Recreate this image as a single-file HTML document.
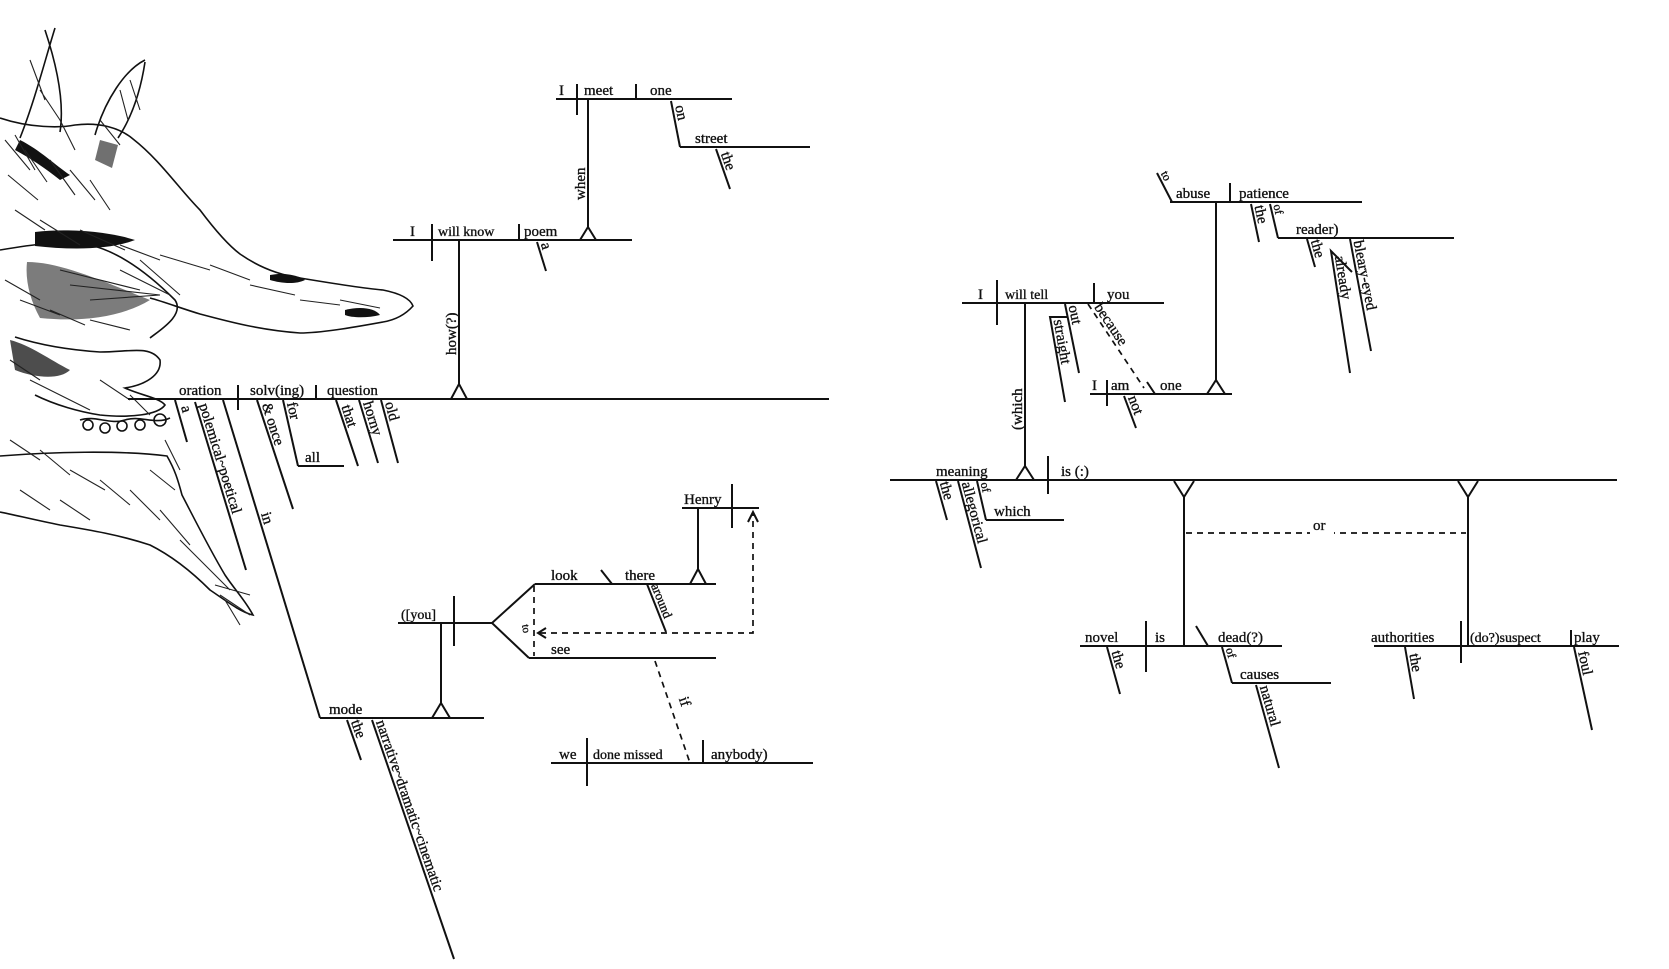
<!DOCTYPE html>
<html><head><meta charset="utf-8"><style>
html,body{margin:0;padding:0;background:#fff;}
svg{display:block}
text{font-family:"Liberation Serif",serif;font-size:15px;fill:#111;stroke:#111;stroke-width:0.35;}
.l{stroke:#111;stroke-width:2;fill:none}
.d{stroke:#111;stroke-width:1.7;fill:none;stroke-dasharray:6 5}
.s{stroke:#111;stroke-width:1.6;fill:none}
.h{stroke:#222;stroke-width:1.1;fill:none}
.b{fill:#111;stroke:none}
</style></head><body>
<svg width="1669" height="969" viewBox="0 0 1669 969" xmlns="http://www.w3.org/2000/svg">
<!-- sketch -->
<g>
<path class="s" d="M45,30 C55,60 65,100 60,132 M55,28 C45,60 35,100 20,138"/>
<path class="s" d="M145,60 C125,70 105,100 95,135 M145,62 C140,95 130,120 118,138"/>
<path class="s" d="M0,118 C30,128 60,128 75,125 C100,122 120,128 133,139 C160,160 180,190 200,210 C215,230 228,245 240,254 C260,268 280,275 300,278 C330,283 360,288 383,290 C398,293 410,298 413,306 C405,315 395,320 383,322 C350,328 320,333 300,333 C260,330 230,322 200,314 C180,308 165,302 150,298"/>
<path class="s" d="M0,250 C30,245 60,240 90,245 C120,252 150,275 175,300 C185,315 160,330 150,338"/>
<path class="s" d="M15,337 C40,345 70,350 100,352 C130,352 150,345 160,360 C162,375 145,385 125,388 C140,395 160,398 165,405 C158,415 130,418 100,415 C80,412 55,405 35,395"/>
<path class="s" d="M80,420 C95,415 110,425 125,420 C140,415 155,425 170,418"/>
<circle class="s" cx="88" cy="425" r="5"/><circle class="s" cx="105" cy="428" r="5"/><circle class="s" cx="122" cy="426" r="5"/><circle class="s" cx="140" cy="425" r="5"/><circle class="s" cx="160" cy="420" r="6"/>
<path class="s" d="M0,456 C50,452 120,450 167,456 C175,470 178,480 182,495 C195,520 210,550 225,575 C235,590 245,600 253,615 C240,612 225,600 210,590 C190,570 170,555 150,545 C120,535 90,530 60,525 C35,520 15,515 0,512"/>
<path class="b" d="M20,140 C40,150 55,165 70,175 L60,180 C45,168 30,158 15,150 Z"/>
<path class="b" d="M100,140 L118,145 L112,168 L95,160 Z" opacity="0.6"/>
<path class="b" d="M35,232 C70,228 110,232 135,240 C110,250 70,250 35,246 Z"/>
<path class="b" d="M27,262 C60,262 100,280 150,300 C120,318 80,322 40,318 C30,300 25,280 27,262 Z" opacity="0.55"/>
<path class="b" d="M10,340 C30,345 50,360 70,370 C60,380 35,378 15,370 Z" opacity="0.75"/>
<path class="b" d="M270,275 C285,272 300,276 305,280 C295,285 280,283 270,280 Z"/>
<path class="b" d="M345,310 C360,306 375,308 380,315 C368,318 352,318 345,315 Z"/>
<g class="h">
<path d="M5,140 l25,30 M15,135 l20,35 M25,150 l22,32 M8,175 l30,25 M50,160 l25,35 M70,170 l25,30 M90,180 l20,30 M15,210 l30,20 M40,220 l40,25 M80,230 l45,20 M120,245 l40,15 M160,255 l50,15 M210,265 l40,15 M250,285 l45,10 M300,300 l40,5 M340,300 l40,8 M60,120 l15,30 M100,120 l20,25 M30,60 l15,40 M40,90 l20,30 M130,80 l10,30 M120,90 l8,30"/>
<path d="M5,280 l35,20 M20,300 l40,15 M50,310 l35,15 M90,320 l40,10 M10,360 l30,20 M30,380 l30,15 M100,380 l30,20 M60,395 l30,15 M130,395 l20,20 M60,270 l80,20 M70,285 l90,10 M90,300 l70,-5 M120,270 l50,25 M140,260 l40,35"/>
<path d="M10,440 l30,20 M40,450 l30,25 M70,470 l35,20 M100,480 l30,25 M130,490 l30,30 M160,510 l30,35 M180,540 l30,30 M200,560 l30,30 M20,490 l30,20 M60,500 l30,20 M215,585 l35,10 M220,595 l30,20 M225,600 l15,25 M165,440 l15,30 M150,470 l25,20"/>
</g>
</g>

<!-- LEFT DIAGRAM -->
<line class="l" x1="128" y1="399" x2="829" y2="399"/>
<text x="179" y="395">oration</text>
<line class="l" x1="238" y1="385" x2="238" y2="410"/>
<text x="250" y="395">solv(ing)</text>
<line class="l" x1="316" y1="385" x2="316" y2="399"/>
<text x="327" y="395">question</text>
<line class="l" x1="175" y1="400" x2="187" y2="442"/>
<text transform="translate(177,404) rotate(74)" x="4" y="-3">a</text>
<line class="l" x1="195" y1="402" x2="246" y2="570"/>
<text transform="translate(195,402) rotate(73)" x="4" y="-3">polemical~poetical</text>
<line class="l" x1="223" y1="400" x2="320" y2="718"/>
<text transform="translate(223,400) rotate(73)" x="120" y="-3">in</text>
<line class="l" x1="257" y1="400" x2="293" y2="509"/>
<text transform="translate(257,400) rotate(72)" x="6" y="-3">&amp; once</text>
<line class="l" x1="283" y1="400" x2="298" y2="466"/>
<text transform="translate(283,400) rotate(77)" x="4" y="-3">for</text>
<line class="l" x1="298" y1="466" x2="344" y2="466"/>
<text x="305" y="462">all</text>
<line class="l" x1="336" y1="400" x2="358" y2="466"/>
<text transform="translate(336,400) rotate(72)" x="8" y="-3">that</text>
<line class="l" x1="359" y1="400" x2="378" y2="463"/>
<text transform="translate(359,400) rotate(73)" x="4" y="-3">horny</text>
<line class="l" x1="381" y1="400" x2="398" y2="463"/>
<text transform="translate(381,400) rotate(75)" x="4" y="-3">old</text>

<line class="l" x1="459" y1="241" x2="459" y2="384"/>
<path class="l" d="M451,399 L459,384 L467,399"/>
<text transform="translate(456,355) rotate(-90)">how(?)</text>
<line class="l" x1="393" y1="240" x2="632" y2="240"/>
<text x="410" y="236">I</text>
<line class="l" x1="432" y1="224" x2="432" y2="261"/>
<text x="438" y="236" style="font-size:14px">will know</text>
<line class="l" x1="519" y1="224" x2="519" y2="240"/>
<text x="524" y="236">poem</text>
<line class="l" x1="537" y1="242" x2="546" y2="271"/>
<text transform="translate(537,242) rotate(73)" x="3" y="-3">a</text>
<line class="l" x1="588" y1="99" x2="588" y2="227"/>
<path class="l" d="M580,240 L588,227 L596,240"/>
<text transform="translate(585,200) rotate(-90)">when</text>
<line class="l" x1="556" y1="99" x2="732" y2="99"/>
<text x="559" y="95">I</text>
<line class="l" x1="577" y1="84" x2="577" y2="115"/>
<text x="584" y="95">meet</text>
<line class="l" x1="636" y1="84" x2="636" y2="99"/>
<text x="650" y="95">one</text>
<line class="l" x1="671" y1="101" x2="680" y2="147"/>
<text transform="translate(671,101) rotate(78)" x="6" y="-3">on</text>
<line class="l" x1="680" y1="147" x2="810" y2="147"/>
<text x="695" y="143">street</text>
<line class="l" x1="716" y1="149" x2="730" y2="189"/>
<text transform="translate(716,149) rotate(71)" x="6" y="-3">the</text>

<line class="l" x1="320" y1="718" x2="484" y2="718"/>
<text x="329" y="714">mode</text>
<line class="l" x1="347" y1="720" x2="361" y2="760"/>
<text transform="translate(347,720) rotate(70)" x="3" y="-3">the</text>
<line class="l" x1="372" y1="720" x2="454" y2="959"/>
<text transform="translate(372,720) rotate(71)" x="3" y="-3">narrative~dramatic~cinematic</text>
<line class="l" x1="441" y1="623" x2="441" y2="703"/>
<path class="l" d="M432,718 L441,703 L450,718"/>
<line class="l" x1="398" y1="623" x2="492" y2="623"/>
<text x="401" y="619" style="font-size:14px">([you]</text>
<line class="l" x1="454" y1="596" x2="454" y2="646"/>
<path class="l" d="M535,584 L492,623 L529,658"/>
<line class="l" x1="535" y1="584" x2="716" y2="584"/>
<line class="l" x1="529" y1="658" x2="716" y2="658"/>
<line class="d" x1="534" y1="586" x2="534" y2="656"/>
<text transform="translate(522,625) rotate(80)" style="font-size:11px">to</text>
<text x="551" y="580">look</text>
<line class="l" x1="601" y1="570" x2="612" y2="584"/>
<text x="625" y="580">there</text>
<line class="l" x1="647" y1="584" x2="666" y2="632"/>
<text transform="translate(647,584) rotate(68)" x="3" y="-3" style="font-size:13px">around</text>
<line class="l" x1="698" y1="508" x2="698" y2="569"/>
<path class="l" d="M690,584 L698,569 L706,584"/>
<line class="l" x1="682" y1="508" x2="759" y2="508"/>
<text x="684" y="504">Henry</text>
<line class="l" x1="732" y1="484" x2="732" y2="528"/>
<path class="d" d="M540,633 L753,633 L753,514"/>
<path class="l" d="M748,522 L753,512 L758,522 M546,628 L538,633 L546,638"/>
<text x="551" y="654">see</text>
<line class="d" x1="655" y1="661" x2="690" y2="763"/>
<text transform="translate(675,700) rotate(71)" x="0" y="-4">if</text>
<line class="l" x1="551" y1="763" x2="813" y2="763"/>
<text x="559" y="759">we</text>
<line class="l" x1="587" y1="738" x2="587" y2="786"/>
<text x="593" y="759" style="font-size:14px">done missed</text>
<line class="l" x1="703" y1="740" x2="703" y2="763"/>
<text x="711" y="759">anybody)</text>

<!-- RIGHT DIAGRAM -->
<line class="l" x1="890" y1="480" x2="1617" y2="480"/>
<text x="936" y="476">meaning</text>
<line class="l" x1="1025" y1="303" x2="1025" y2="466"/>
<path class="l" d="M1016,480 L1025,466 L1034,480"/>
<text transform="translate(1022,430) rotate(-90)">(which</text>
<line class="l" x1="1048" y1="456" x2="1048" y2="494"/>
<text x="1061" y="476">is (:)</text>
<line class="l" x1="936" y1="481" x2="947" y2="520"/>
<text transform="translate(936,481) rotate(74)" x="3" y="-3">the</text>
<line class="l" x1="958" y1="481" x2="981" y2="568"/>
<text transform="translate(958,481) rotate(75)" x="3" y="-3">allegorical</text>
<line class="l" x1="977" y1="481" x2="986" y2="520"/>
<text transform="translate(977,481) rotate(77)" x="3" y="-3" style="font-size:12px">of</text>
<line class="l" x1="986" y1="520" x2="1064" y2="520"/>
<text x="994" y="516">which</text>

<path class="l" d="M1174,481 L1184,497 L1194,481"/>
<line class="l" x1="1184" y1="497" x2="1184" y2="646"/>
<path class="l" d="M1458,481 L1468,497 L1478,481"/>
<line class="l" x1="1468" y1="497" x2="1468" y2="646"/>
<line class="d" x1="1186" y1="533" x2="1466" y2="533"/>
<rect x="1310" y="518" width="24" height="18" fill="#fff"/>
<text x="1313" y="530">or</text>

<line class="l" x1="1080" y1="646" x2="1282" y2="646"/>
<text x="1085" y="642">novel</text>
<line class="l" x1="1146" y1="621" x2="1146" y2="672"/>
<text x="1155" y="642">is</text>
<line class="l" x1="1196" y1="626" x2="1208" y2="646"/>
<text x="1218" y="642">dead(?)</text>
<line class="l" x1="1107" y1="647" x2="1120" y2="694"/>
<text transform="translate(1107,647) rotate(74)" x="6" y="-3">the</text>
<line class="l" x1="1222" y1="647" x2="1232" y2="683"/>
<text transform="translate(1222,647) rotate(74)" x="3" y="-3" style="font-size:12px">of</text>
<line class="l" x1="1232" y1="683" x2="1331" y2="683"/>
<text x="1240" y="679">causes</text>
<line class="l" x1="1256" y1="685" x2="1279" y2="768"/>
<text transform="translate(1256,685) rotate(74)" x="3" y="-3">natural</text>

<line class="l" x1="1374" y1="646" x2="1619" y2="646"/>
<text x="1371" y="642">authorities</text>
<line class="l" x1="1461" y1="621" x2="1461" y2="663"/>
<text x="1470" y="642" style="font-size:14px">(do?)suspect</text>
<line class="l" x1="1571" y1="630" x2="1571" y2="646"/>
<text x="1574" y="642">play</text>
<line class="l" x1="1405" y1="647" x2="1414" y2="699"/>
<text transform="translate(1405,647) rotate(80)" x="8" y="-3">the</text>
<line class="l" x1="1574" y1="647" x2="1592" y2="730"/>
<text transform="translate(1574,647) rotate(78)" x="6" y="-3">foul</text>

<line class="l" x1="962" y1="303" x2="1164" y2="303"/>
<text x="978" y="299">I</text>
<line class="l" x1="997" y1="280" x2="997" y2="325"/>
<text x="1005" y="299" style="font-size:14px">will tell</text>
<line class="l" x1="1094" y1="283" x2="1094" y2="303"/>
<text x="1107" y="299">you</text>
<line class="l" x1="1065" y1="304" x2="1079" y2="373"/>
<text transform="translate(1065,304) rotate(78)" x="3" y="-3">out</text>
<path class="l" d="M1068,317 L1050,317 L1065,402"/>
<text transform="translate(1050,317) rotate(80)" x="4" y="-3">straight</text>
<line class="d" x1="1088" y1="304" x2="1144" y2="388"/>
<text transform="translate(1088,304) rotate(56)" x="6" y="-3">because</text>
<line class="l" x1="1090" y1="394" x2="1232" y2="394"/>
<text x="1092" y="390">I</text>
<line class="l" x1="1107" y1="380" x2="1107" y2="406"/>
<text x="1111" y="390">am</text>
<line class="l" x1="1147" y1="382" x2="1155" y2="394"/>
<text x="1160" y="390">one</text>
<line class="l" x1="1124" y1="396" x2="1136" y2="428"/>
<text transform="translate(1124,396) rotate(69)" x="3" y="-3">not</text>
<line class="l" x1="1216" y1="202" x2="1216" y2="380"/>
<path class="l" d="M1207,394 L1216,380 L1225,394"/>

<line class="l" x1="1170" y1="202" x2="1362" y2="202"/>
<line class="l" x1="1157" y1="173" x2="1172" y2="202"/>
<text transform="translate(1157,173) rotate(63)" x="2" y="-3" style="font-size:12px">to</text>
<text x="1176" y="198">abuse</text>
<line class="l" x1="1230" y1="183" x2="1230" y2="203"/>
<text x="1239" y="198">patience</text>
<line class="l" x1="1251" y1="204" x2="1259" y2="242"/>
<text transform="translate(1251,204) rotate(78)" x="3" y="-3">the</text>
<line class="l" x1="1270" y1="204" x2="1278" y2="238"/>
<text transform="translate(1270,204) rotate(77)" x="2" y="-3" style="font-size:12px">of</text>
<line class="l" x1="1278" y1="238" x2="1454" y2="238"/>
<text x="1296" y="234">reader)</text>
<line class="l" x1="1307" y1="239" x2="1315" y2="267"/>
<text transform="translate(1307,239) rotate(74)" x="3" y="-3">the</text>
<line class="l" x1="1350" y1="239" x2="1371" y2="351"/>
<text transform="translate(1350,239) rotate(79)" x="3" y="-3">bleary-eyed</text>
<path class="l" d="M1352,272 L1331,251 L1350,373"/>
<text transform="translate(1331,251) rotate(81)" x="6" y="-3">already</text>
</svg>
</body></html>
